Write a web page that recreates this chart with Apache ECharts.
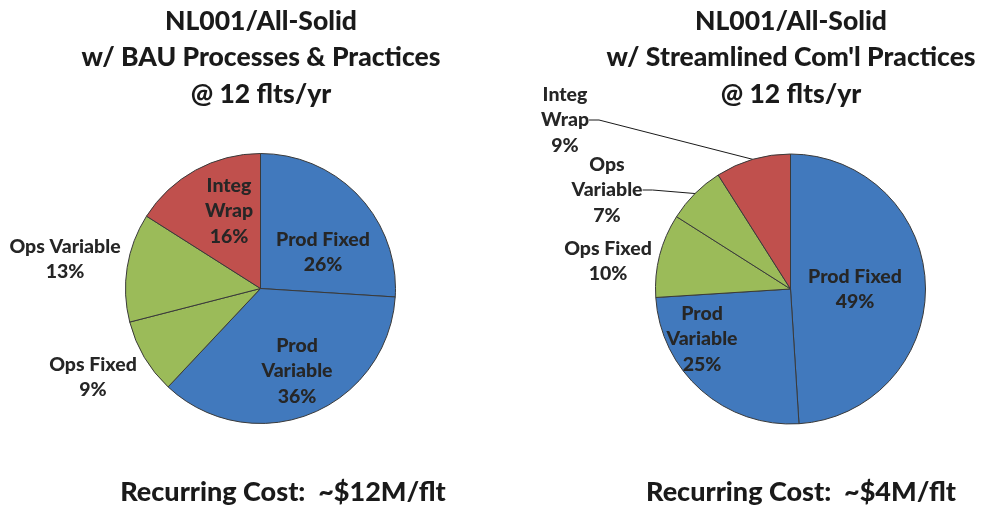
<!DOCTYPE html>
<html>
<head>
<meta charset="utf-8">
<script src="https://cdn.jsdelivr.net/npm/echarts@6/dist/echarts.min.js"></script>
<style>
  html, body { margin: 0; padding: 0; background: #fff; }
  #chart { width: 988px; height: 510px; }
</style>
</head>
<body>
<div id="chart"></div>
<script>
// slices in clockwise order from 12 o'clock
const categories = ['Prod Fixed', 'Prod\nVariable', 'Ops Fixed', 'Ops Variable', 'Integ\nWrap'];
const categoriesRight = ['Prod Fixed', 'Prod\nVariable', 'Ops Fixed', 'Ops\nVariable', 'Integ\nWrap'];
const bauShares = [26, 36, 9, 13, 16];
const streamlinedShares = [49, 25, 10, 7, 9];
const sliceColors = ['#4179BD', '#4179BD', '#9BBB59', '#9BBB59', '#C0504D'];

const titleLeft = 'NL001/All-Solid\nw/ BAU Processes & Practices\n@ 12 flts/yr';
const titleRight = "NL001/All-Solid\nw/ Streamlined Com'l Practices\n@ 12 flts/yr";
const costLeft = 'Recurring Cost:  ~$12M/flt';
const costRight = 'Recurring Cost:  ~$4M/flt';

// label centres, one per slice
const labelSpotsLeft = [[323, 252], [297, 371], [93, 377], [65, 259], [229, 211]];
const labelSpotsRight = [[855, 289], [702, 339], [608, 261], [607, 190], [565, 120]];
const leaderShown = [false, false, false, true, true];

const FONT = 'Lato, "Open Sans", sans-serif';
const chart = echarts.init(document.getElementById('chart'));

function pieData(names, values) {
  return names.map((n, i) => ({
    name: n,
    value: values[i],
    itemStyle: { color: sliceColors[i] }
  }));
}

function pieSeries(names, values, center, spots, withLeaders) {
  return {
    type: 'pie',
    center: center,
    radius: 135,
    startAngle: 90,
    clockwise: true,
    animation: false,
    silent: true,
    avoidLabelOverlap: false,
    itemStyle: { borderColor: '#3a3a3a', borderWidth: 1 },
    label: {
      show: true,
      position: 'outside',
      formatter: '{b}\n{c}%',
      color: '#262626',
      fontFamily: FONT,
      fontWeight: 900,
      fontSize: 19.5,
      lineHeight: 25.5,
      align: 'center'
    },
    labelLine: {
      show: withLeaders,
      length: 10,
      length2: 10,
      lineStyle: { color: '#1a1a1a', width: 1 }
    },
    labelLayout: function (p) {
      const s = spots[p.dataIndex];
      return { x: s[0], y: s[1], align: 'center', verticalAlign: 'middle' };
    },
    data: pieData(names, values).map((d, i) => Object.assign(d, {
      labelLine: { show: withLeaders && leaderShown[i] }
    }))
  };
}

const titleStyle = {
  fontFamily: FONT,
  fontWeight: 900,
  fontSize: 26.5,
  lineHeight: 36.6,
  color: '#1a1a1a'
};
const costStyle = Object.assign({}, titleStyle, { fontSize: 27 });

chart.setOption({
  backgroundColor: '#ffffff',
  title: [
    { text: titleLeft, left: 261, top: 3, padding: 0, textAlign: 'center', textStyle: Object.assign({ align: 'center' }, titleStyle) },
    { text: titleRight, left: 791, top: 3, padding: 0, textAlign: 'center', textStyle: Object.assign({ align: 'center' }, titleStyle) },
    { text: costLeft, left: 283, top: 474, padding: 0, textAlign: 'center', textStyle: costStyle },
    { text: costRight, left: 801, top: 474, padding: 0, textAlign: 'center', textStyle: costStyle }
  ],
  series: [
    pieSeries(categories, bauShares, [260.5, 288.5], labelSpotsLeft, false),
    pieSeries(categoriesRight, streamlinedShares, [790.5, 289], labelSpotsRight, true)
  ]
});
</script>
</body>
</html>
